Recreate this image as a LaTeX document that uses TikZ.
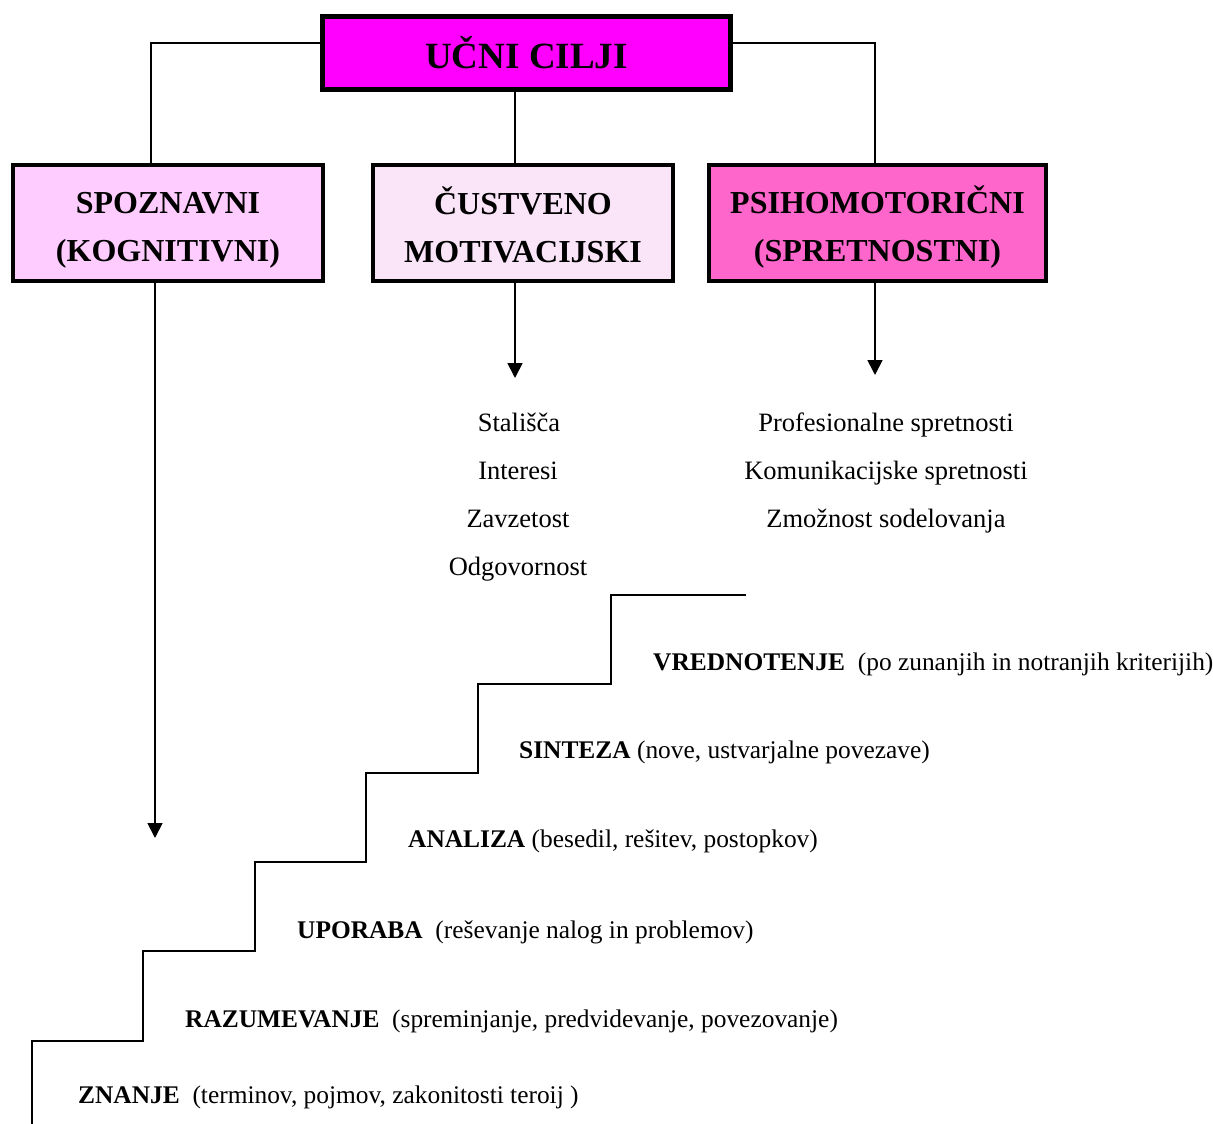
\documentclass[tikz,border=0pt]{standalone}
\usepackage{fontspec}
\setmainfont{Liberation Serif}
\usetikzlibrary{arrows.meta}
\definecolor{topc}{HTML}{FF00FF}
\definecolor{spoc}{HTML}{FFCCFF}
\definecolor{cusc}{HTML}{F9E4F8}
\definecolor{psic}{HTML}{FF66CC}
\newcommand{\toprule}{\rule{0pt}{36pt}}
\newcommand{\botrule}{\rule[-5pt]{0pt}{5pt}}
\tikzset{
  catbox/.style={draw=black, line width=3.5pt, minimum height=116pt, align=center,
    font=\bfseries\fontsize{32}{48}\selectfont, inner sep=0pt},
  conn/.style={line width=1.7pt},
  arr/.style={line width=1.7pt, -{Triangle[length=15pt,width=15pt]}},
  item/.style={font=\fontsize{26.5}{30}\selectfont, inner sep=0pt, anchor=base},
  lvl/.style={font=\fontsize{25.4}{30}\selectfont, inner sep=0pt, anchor=mid west},
  stair/.style={line width=2pt}
}
\begin{document}
\begin{tikzpicture}[x=1pt,y=-1pt]
\useasboundingbox (0,0) rectangle (1213,1124);
% boxes
\node[draw=black, line width=5pt, fill=topc, minimum width=408pt, minimum height=73pt,
  font=\bfseries\fontsize{37}{40}\selectfont, inner sep=0pt] (top) at (526.5,53) {UČNI CILJI};
\node[catbox, fill=spoc, minimum width=310pt] (spo) at (168,223) {\toprule SPOZNAVNI\\(KOGNITIVNI)\botrule};
\node[catbox, fill=cusc, minimum width=300pt] (cus) at (523,223) {\toprule ČUSTVENO\\MOTIVACIJSKI\botrule};
\node[catbox, fill=psic, minimum width=337pt] (psi) at (877.5,223) {\toprule PSIHOMOTORIČNI\\(SPRETNOSTNI)\botrule};
% connectors
\draw[conn] (top.west |- 0,43) -| (spo.north -| 151,0);
\draw[conn] (top.east |- 0,43) -| (psi.north -| 875,0);
\draw[conn] (top.south -| 515,0) -- (cus.north -| 515,0);
\coordinate (spoend) at (155,838);
\coordinate (cusend) at (515,378);
\coordinate (psiend) at (875,375);
\draw[arr] (spo.south -| spoend) -- (spoend);
\draw[arr] (cus.south -| cusend) -- (cusend);
\draw[arr] (psi.south -| psiend) -- (psiend);
% lists
\node[item] (c1) at (519,431) {Stališča};
\node[item] (c2) at (518,479) {Interesi};
\node[item] (c3) at (518,527) {Zavzetost};
\node[item] (c4) at (518,575) {Odgovornost};
\node[item] (p1) at (886,431) {Profesionalne spretnosti};
\node[item] (p2) at (886,479) {Komunikacijske spretnosti};
\node[item] (p3) at (886,527) {Zmožnost sodelovanja};
% staircase
\draw[stair] (32,1124) -- (32,1041) -- (143,1041) -- (143,951) -- (255,951) -- (255,862)
  -- (366,862) -- (366,773) -- (478,773) -- (478,684) -- (611,684) -- (611,595) -- (746,595);
% levels
\node[lvl] (l6) at (653,668) {\textbf{VREDNOTENJE}\ \ (po zunanjih in notranjih kriterijih)};
\node[lvl] (l5) at (519,756) {\textbf{SINTEZA} (nove, ustvarjalne povezave)};
\node[lvl] (l4) at (408,845) {\textbf{ANALIZA} (besedil, rešitev, postopkov)};
\node[lvl] (l3) at (297,936) {\textbf{UPORABA}\ \ (reševanje nalog in problemov)};
\node[lvl] (l2) at (185,1025) {\textbf{RAZUMEVANJE}\ \ (spreminjanje, predvidevanje, povezovanje)};
\node[lvl] (l1) at (78,1101) {\textbf{ZNANJE}\ \ (terminov, pojmov, zakonitosti teroij )};
\end{tikzpicture}
\end{document}
